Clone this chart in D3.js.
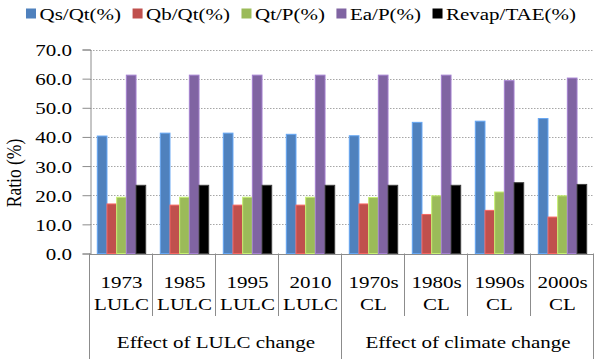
<!DOCTYPE html>
<html>
<head>
<meta charset="utf-8">
<script src="https://cdn.jsdelivr.net/npm/d3@7"></script>
<style>
  body { margin: 0; background: #fff; }
  svg text { font-family: "Liberation Serif", "Times New Roman", serif; fill: #000; }
</style>
</head>
<body>
<svg id="chart"></svg>
<script>
// data
const categories = ["1973|LULC", "1985|LULC", "1995|LULC", "2010|LULC",
                    "1970s|CL", "1980s|CL", "1990s|CL", "2000s|CL"]
const groups = [
  {name: "Effect of LULC change", from: 0, to: 3},
  {name: "Effect of climate change", from: 4, to: 7}
]
const seriesNames = ["Qs/Qt(%)", "Qb/Qt(%)", "Qt/P(%)", "Ea/P(%)", "Revap/TAE(%)"]
const seriesColors = ["#4F81BD", "#C0504D", "#9BBB59", "#8064A2", "#000000"]
const qsQt  = [40.3, 41.3, 41.3, 40.9, 40.4, 45.0, 45.4, 46.3]
const qbQt  = [17.0, 16.6, 16.6, 16.6, 17.0, 13.4, 14.8, 12.5]
const qtP   = [19.3, 19.3, 19.3, 19.3, 19.2, 19.8, 21.1, 19.8]
const eaP   = [61.2, 61.2, 61.2, 61.2, 61.2, 61.2, 59.3, 60.2]
const revap = [23.4, 23.4, 23.4, 23.4, 23.4, 23.4, 24.3, 23.7]
const yTicks = [0, 10, 20, 30, 40, 50, 60, 70]

const series = [qsQt, qbQt, qtP, eaP, revap]

const width = 600, height = 359
const margin = {top: 49.5, right: 6, bottom: 105.5, left: 90}
const sx = 1.2   // the source text is stretched sideways
const fs = 17.5

const svg = d3.select("#chart")
    .attr("width", width)
    .attr("height", height)
    .attr("viewBox", [0, 0, width, height])

const x = d3.scaleBand()
    .domain(d3.range(categories.length))
    .range([margin.left, width - margin.right])
    .padding(0)

const inset = 7.3
const x1 = d3.scaleBand()
    .domain(d3.range(series.length))
    .range([inset, x.bandwidth() - inset])
    .padding(0)

const y = d3.scaleLinear()
    .domain([0, 70])
    .range([height - margin.bottom, margin.top])

const axisColor = "#8c8c8c"

// stretched text helper
function stretchText(g, tx, ty, str, anchor, size) {
  return g.append("text")
      .attr("transform", `translate(${tx},${ty}) scale(${sx},1)`)
      .attr("text-anchor", anchor)
      .attr("font-size", size || fs)
      .text(str)
}

// gridlines
svg.append("g")
  .selectAll("line")
  .data(yTicks.filter(d => d > 0))
  .join("line")
    .attr("x1", margin.left)
    .attr("x2", width - margin.right)
    .attr("y1", d => Math.round(y(d)) + 0.5)
    .attr("y2", d => Math.round(y(d)) + 0.5)
    .attr("stroke", "#a6a6a6")
    .attr("stroke-dasharray", "1.5,1.5")

// bars
const bars = svg.append("g")
  .selectAll("g")
  .data(categories)
  .join("g")
    .attr("transform", (d, i) => `translate(${x(i)},0)`)

bars.selectAll("rect")
  .data((d, i) => series.map((s, k) => ({k, v: s[i]})))
  .join("rect")
    .attr("x", d => x1(d.k))
    .attr("width", x1.bandwidth())
    .attr("y", d => y(d.v))
    .attr("height", d => y(0) - y(d.v))
    .attr("fill", d => seriesColors[d.k])
    .attr("stroke", d => d.k == 4 ? "#404040" : d3.color(seriesColors[d.k]).brighter(0.7))
    .attr("stroke-width", 1)

// y axis
const yAxis = svg.append("g")
    .attr("transform", `translate(${margin.left + 0.5},0)`)
    .call(d3.axisLeft(y).tickValues(yTicks).tickSize(8).tickFormat(d3.format(".1f")))
yAxis.select(".domain").attr("stroke", axisColor)
yAxis.selectAll(".tick line").attr("stroke", axisColor)
yAxis.selectAll(".tick text")
    .attr("font-size", fs)
    .attr("font-family", "Liberation Serif")
    .attr("x", -18.5 / sx)
    .attr("dy", "0.34em")
    .attr("transform", `scale(${sx},1)`)

// y title
svg.append("text")
    .attr("transform", `translate(21,173) rotate(-90) scale(1,${sx})`)
    .attr("text-anchor", "middle")
    .attr("font-size", fs)
    .text("Ratio (%)")

// x axis with two-level categories
const x0 = y(0)
const xa = svg.append("g")
xa.append("line")
    .attr("x1", margin.left).attr("x2", width - margin.right)
    .attr("y1", Math.round(x0) + 0.5).attr("y2", Math.round(x0) + 0.5)
    .attr("stroke", axisColor)

const bounds = d3.range(categories.length + 1)
const groupEdges = [0, 4, 8]
xa.selectAll(".div")
  .data(bounds)
  .join("line")
    .attr("x1", i => Math.round(i < categories.length ? x(i) : x.range()[1]) - 0.5)
    .attr("x2", i => Math.round(i < categories.length ? x(i) : x.range()[1]) - 0.5)
    .attr("y1", x0)
    .attr("y2", i => groupEdges.includes(i) ? height : 316)
    .attr("stroke", axisColor)

categories.forEach((c, i) => {
  const [a, b] = c.split("|")
  const cx = x(i) + x.bandwidth() / 2
  stretchText(xa, cx, 287.5, a, "middle")
  stretchText(xa, cx, 310, b, "middle")
})

groups.forEach(g => {
  const cx = (x(g.from) + x(g.to) + x.bandwidth()) / 2
  stretchText(xa, cx, 347.5, g.name, "middle")
})

// legend
const legend = svg.append("g")
let lx = 0
const items = seriesNames.map((n, k) => {
  const it = legend.append("g")
  it.append("rect")
      .attr("x", 0).attr("y", 8.5)
      .attr("width", 10).attr("height", 10)
      .attr("fill", seriesColors[k])
  const t = stretchText(it, 13.5, 20, n, "start")
  const w = 13.5 + t.node().getComputedTextLength() * sx
  it.attr("transform", `translate(${lx},0)`)
  lx += w + 11.5
  return it
})
const total = lx - 11.5
legend.attr("transform", `translate(${301 - total / 2},0)`)
</script>
</body>
</html>
